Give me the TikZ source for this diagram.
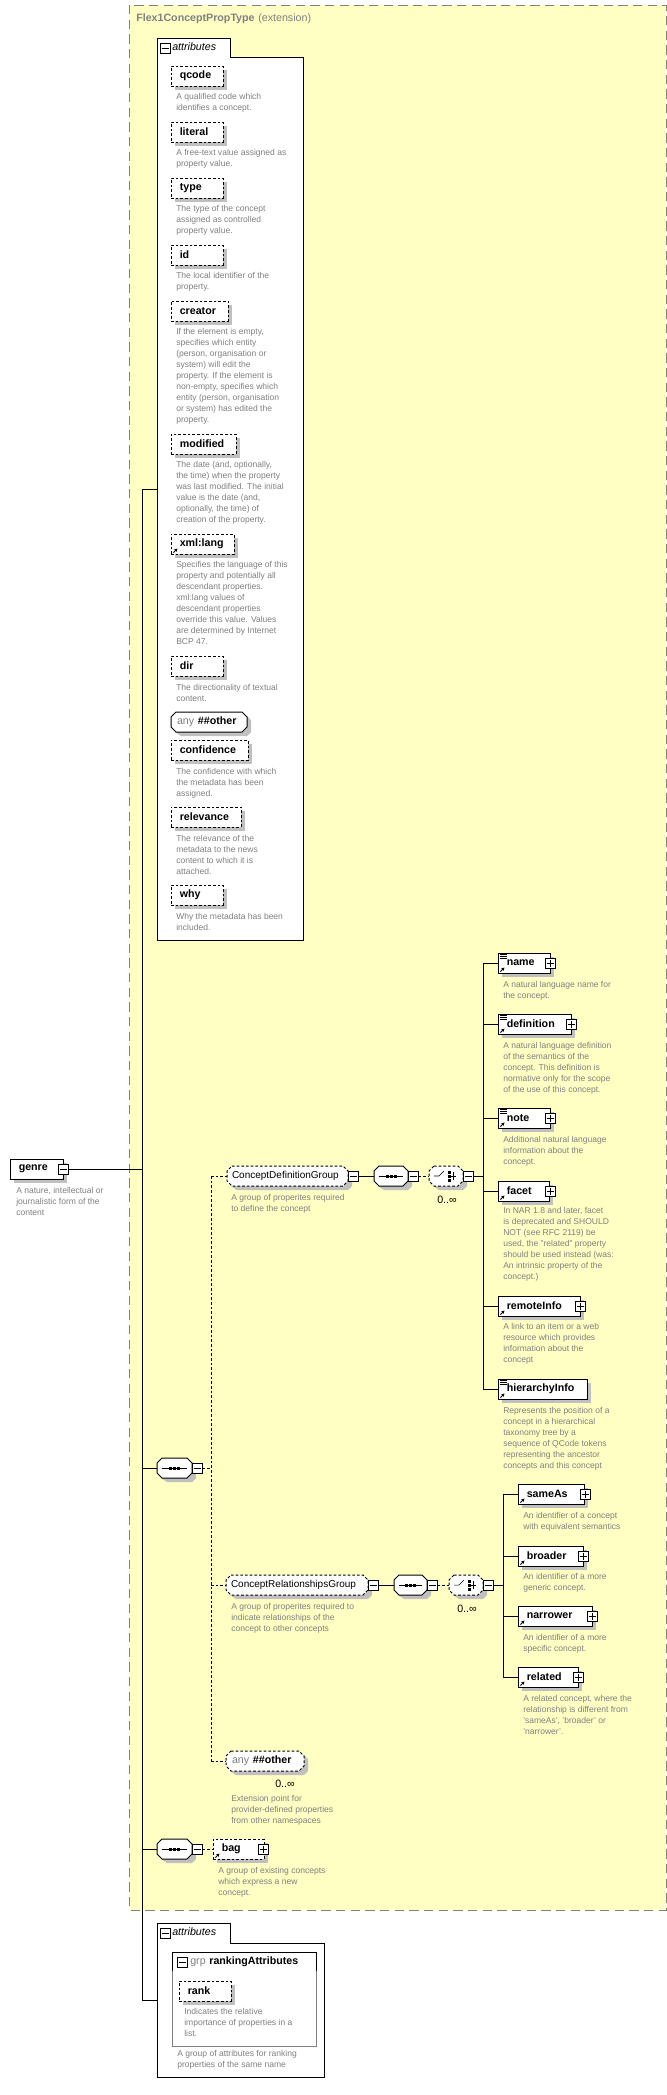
\documentclass[tikz,border=0pt]{standalone}
\usepackage{fontspec}
\setmainfont{Liberation Sans}
\usetikzlibrary{arrows.meta}
\definecolor{yel}{RGB}{255,255,196}
\definecolor{shd}{RGB}{192,192,192}
\definecolor{dsc}{RGB}{128,128,128}
\newcommand\nmfont{\fontsize{8pt}{9.6pt}\selectfont\bfseries}
\newcommand\gfont{\fontsize{8pt}{9.6pt}\selectfont}
\newcommand\grfont{\fontsize{7.5pt}{9pt}\selectfont}
\newcommand\dfont{\fontsize{6.4pt}{8.25pt}\selectfont}
\tikzset{
 abox/.style={rectangle,draw,dash pattern=on 2pt off 1.5pt,fill=white,line width=0.75pt},
 ebox/.style={rectangle,draw,fill=white,line width=0.75pt},
 pmbox/.style={rectangle,draw,fill=white,minimum size=7.5pt,inner sep=0pt,line width=0.75pt},
 dtxt/.style={anchor=north west,inner sep=0pt,align=left,font=\dfont,text=dsc},
 wire/.style={line width=0.75pt},
 dwire/.style={line width=0.75pt,dash pattern=on 2pt off 1.5pt},
 mult/.style={inner sep=0pt,font=\gfont},
 solidl/.style={},
 dashl/.style={dash pattern=on 2pt off 1.5pt},
}
\def\bxoff{9}
\newcommand\bx[6]{%
 \pgfmathsetmacro\bxw{(#3-#2)*0.75}%
 \pgfmathsetmacro\bxc{(#2+#3)/2}%
 \node[#5,fill=shd,draw=none,minimum width=\bxw pt,minimum height=15pt,inner sep=0pt] (#1-s) at (\bxc+4,#4+4) {};
 \node[#5,minimum width=\bxw pt,minimum height=15pt,inner sep=0pt] (#1) at (\bxc,#4) {};
 \node[anchor=west,inner sep=0pt] (#1-t) at ([shift={(\bxoff,0)}]#1.west) {#6};
}
% octagon: name,x1,x2,yc,linestyle,text
\newcommand\ob[6]{%
 \pgfmathsetmacro\bxw{(#3-#2)*0.75}%
 \pgfmathsetmacro\bxc{(#2+#3)/2}%
 \fill[shd] (#2+10,#4-6) -- (#3,#4-6) -- (#3+4,#4-2) -- (#3+4,#4+10) -- (#3,#4+14) -- (#2+10,#4+14) -- (#2+4,#4+10) -- (#2+4,#4-2) -- cycle;
 \draw[fill=white,line width=0.75pt,#5] (#2+5,#4-10) -- (#3-5,#4-10) -- (#3,#4-5) -- (#3,#4+5) -- (#3-5,#4+10) -- (#2+5,#4+10) -- (#2,#4+5) -- (#2,#4-5) -- cycle;
 \node[rectangle,minimum width=\bxw pt,minimum height=15pt,inner sep=0pt] (#1) at (\bxc,#4) {};
 \node[anchor=west,inner sep=0pt] (#1-t) at ([shift={(\bxoff,0)}]#1.west) {#6};
}
\newcommand\pmb[4]{%
 \node[pmbox] (#1) at (#2,#3) {};
 \draw ([shift={(2,0)}]#1.west) -- ([shift={(-2,0)}]#1.east);
 \ifnum#4=1 \draw ([shift={(0,2)}]#1.north) -- ([shift={(0,-2)}]#1.south);\fi}
\newcommand\arr[1]{\draw[-{Stealth[length=2.5pt,width=2.5pt]},line width=0.6pt] ([shift={(3,-2)}]#1.south west) -- ++(4,-4);}
\newcommand\eqi[1]{\foreach \i in {2,4,6} \draw[line width=0.5pt] ([shift={(2,\i)}]#1.north west) -- ++(7,0);}
\newcommand\seqsym[1]{\draw ([shift={(5,0)}]#1.west) -- ([shift={(-5,0)}]#1.east);
 \foreach \d in {-4,0,4} \fill ([shift={(\d,0)}]#1.center) +(-1.5,-1.5) rectangle +(1.5,1.5);}
\newcommand\chsym[1]{\draw ([shift={(-12,0)}]#1.center) -- ++(5,0) -- ++(5,-5);
 \foreach \d in {-4,0,4} \fill ([shift={(3,\d)}]#1.center) +(-1.5,-1.5) rectangle +(1.5,1.5);
 \draw ([shift={(4,0)}]#1.center) -- ++(6,0); \draw ([shift={(7,-4)}]#1.center) -- ++(0,8);}
\begin{document}
\begin{tikzpicture}[x=0.75pt,y=-0.75pt]
\useasboundingbox (0,0) rectangle (667,2095);
\fill[white] (0,0) rectangle (667,2095);
% extension box
\draw[fill=yel,draw=dsc,line width=0.75pt,dash pattern=on 7pt off 4pt] (129,5) rectangle (666,1910);
\node[anchor=west,inner sep=0pt,text=dsc] (title) at (136,19) {{\nmfont Flex1ConceptPropType} {\gfont (extension)}};
% attributes box 1
\draw[fill=white,line width=0.75pt] (157,940) -- (157,38) -- (230,38) -- (230,57) -- (303,57) -- (303,940) -- cycle;
\pmb{at1m}{165}{48}{0}
\node[anchor=west,inner sep=0pt,font=\gfont\itshape] (at1t) at (172,47) {attributes};
\coordinate (at1) at (157,489);

\bx{qcode}{171}{223}{76}{abox}{\nmfont qcode}
\node[dtxt] (qcode-d) at (176,93) {A qualified code which\\identifies a concept.};
\bx{literal}{171}{223}{132}{abox}{\nmfont literal}
\node[dtxt] (literal-d) at (176,149) {A free-text value assigned as\\property value.};
\bx{type}{171}{223}{188}{abox}{\nmfont type}
\node[dtxt] (type-d) at (176,205) {The type of the concept\\assigned as controlled\\property value.};
\bx{id}{171}{223}{255}{abox}{\nmfont id}
\node[dtxt] (id-d) at (176,272) {The local identifier of the\\property.};
\bx{creator}{171}{228}{311}{abox}{\nmfont creator}
\node[dtxt] (creator-d) at (176,328) {If the element is empty,\\specifies which entity\\(person, organisation or\\system) will edit the\\property. If the element is\\non-empty, specifies which\\entity (person, organisation\\or system) has edited the\\property.};
\bx{modified}{171}{236}{444}{abox}{\nmfont modified}
\node[dtxt] (modified-d) at (176,461) {The date (and, optionally,\\the time) when the property\\was last modified. The initial\\value is the date (and,\\optionally, the time) of\\creation of the property.};
\bx{xmllang}{171}{234}{544}{abox}{\nmfont xml:lang}
\arr{xmllang}
\node[dtxt] (xmllang-d) at (176,561) {Specifies the language of this\\property and potentially all\\descendant properties.\\xml:lang values of\\descendant properties\\override this value. Values\\are determined by Internet\\BCP 47.};
\bx{dir}{171}{223}{666}{abox}{\nmfont dir}
\node[dtxt] (dir-d) at (176,684) {The directionality of textual\\content.};
\def\bxoff{6}
\ob{aany}{171}{247}{722}{solidl}{{\gfont\color{dsc}any} {\nmfont \#\#other}}
\def\bxoff{9}
\bx{confidence}{171}{248}{750}{abox}{\nmfont confidence}
\node[dtxt] (confidence-d) at (176,768) {The confidence with which\\the metadata has been\\assigned.};
\bx{relevance}{171}{241}{817}{abox}{\nmfont relevance}
\node[dtxt] (relevance-d) at (176,835) {The relevance of the\\metadata to the news\\content to which it is\\attached.};
\bx{why}{171}{223}{895}{abox}{\nmfont why}
\node[dtxt] (why-d) at (176,913) {Why the metadata has been\\included.};

% genre
\bx{genre}{10}{63}{1169}{ebox}{\nmfont genre}
\pmb{genre-m}{63}{1169}{0}
\node[dtxt] (genre-d) at (16,1187) {A nature, intellectual or\\journalistic form of the\\content};
\coordinate (tG) at (142,1169);
\coordinate (tTop) at (142,489);
\coordinate (tBot) at (142,2000);
\coordinate (tS1) at (142,1468);
\coordinate (tS3) at (142,1849);
\coordinate (at2) at (157,2000);
\draw[wire] (genre-m.east) -- (tG);
\draw[wire] (tTop) -- (tBot);
\draw[wire] (tTop) -- (at1);
\draw[wire] (tBot) -- (at2);

% sequence 1
\ob{seq1}{157}{192}{1468}{solidl}{}
\seqsym{seq1}
\pmb{seq1-m}{197}{1468}{0}
\draw[wire] (tS1) -- (seq1.west);
\coordinate (dTop) at (211,1176);
\coordinate (dMid) at (211,1585);
\coordinate (dBot) at (211,1761);
\draw[dwire] (seq1-m.east) -- (211,1468);
\draw[dwire] (dTop) -- (dBot);

% ConceptDefinitionGroup
\def\bxoff{5}
\ob{cdg}{227}{348}{1176}{dashl}{\grfont ConceptDefinitionGroup}
\def\bxoff{9}
\pmb{cdg-m}{353}{1176}{0}
\draw[dwire] (dTop) -- (cdg.west);
\node[dtxt] (cdg-d) at (231,1194) {A group of properites required\\to define the concept};
\ob{seq2}{374}{408}{1176}{solidl}{}
\seqsym{seq2}
\pmb{seq2-m}{413}{1176}{0}
\draw[wire] (cdg-m.east) -- (seq2.west);
\ob{ch1}{429}{463}{1176}{dashl}{}
\chsym{ch1}
\pmb{ch1-m}{468}{1176}{0}
\draw[dwire] (seq2-m.east) -- (ch1.west);
\node[mult] (ch1-n) at (447,1200) {0..∞};
\coordinate (b1) at (483,1176);
\coordinate (b1t) at (483,963);
\coordinate (b1b) at (483,1389);
\draw[wire] (ch1-m.east) -- (b1);
\draw[wire] (b1t) -- (b1b);

\bx{name}{498}{550}{963}{ebox}{\nmfont name}
\eqi{name}\arr{name}\pmb{name-p}{550}{963}{1}
\node[dtxt] (name-d) at (503,981) {A natural language name for\\the concept.};
\bx{definition}{498}{571}{1024}{ebox}{\nmfont definition}
\eqi{definition}\arr{definition}\pmb{definition-p}{571}{1024}{1}
\node[dtxt] (definition-d) at (503,1042) {A natural language definition\\of the semantics of the\\concept. This definition is\\normative only for the scope\\of the use of this concept.};
\bx{note}{498}{550}{1118}{ebox}{\nmfont note}
\eqi{note}\arr{note}\pmb{note-p}{550}{1118}{1}
\node[dtxt] (note-d) at (503,1136) {Additional natural language\\information about the\\concept.};
\bx{facet}{498}{549}{1191}{ebox}{\nmfont facet}
\arr{facet}\pmb{facet-p}{550}{1191}{1}
\node[dtxt] (facet-d) at (503,1207) {In NAR 1.8 and later, facet\\is deprecated and SHOULD\\NOT (see RFC 2119) be\\used, the "related" property\\should be used instead (was:\\An intrinsic property of the\\concept.)};
\bx{remoteInfo}{498}{580}{1306}{ebox}{\nmfont remoteInfo}
\arr{remoteInfo}\pmb{remoteInfo-p}{580}{1306}{1}
\node[dtxt] (remoteInfo-d) at (503,1323) {A link to an item or a web\\resource which provides\\information about the\\concept};
\bx{hierarchyInfo}{498}{587}{1389}{ebox}{\nmfont hierarchyInfo}
\eqi{hierarchyInfo}\arr{hierarchyInfo}
\node[dtxt] (hierarchyInfo-d) at (503,1407) {Represents the position of a\\concept in a hierarchical\\taxonomy tree by a\\sequence of QCode tokens\\representing the ancestor\\concepts and this concept};
\foreach \n in {name,definition,note,facet,remoteInfo,hierarchyInfo}
  \draw[wire] (\n.west -| b1) -- (\n.west);

% ConceptRelationshipsGroup
\def\bxoff{5}
\ob{crg}{226}{368}{1585}{dashl}{\grfont ConceptRelationshipsGroup}
\def\bxoff{9}
\pmb{crg-m}{373}{1585}{0}
\draw[dwire] (dMid) -- (crg.west);
\node[dtxt] (crg-d) at (231,1603) {A group of properites required to\\indicate relationships of the\\concept to other concepts};
\ob{seq4}{394}{427}{1585}{solidl}{}
\seqsym{seq4}
\pmb{seq4-m}{432}{1585}{0}
\draw[wire] (crg-m.east) -- (seq4.west);
\ob{ch2}{449}{483}{1585}{dashl}{}
\chsym{ch2}
\pmb{ch2-m}{488}{1585}{0}
\draw[dwire] (seq4-m.east) -- (ch2.west);
\node[mult] (ch2-n) at (467,1609) {0..∞};
\coordinate (b2) at (503,1585);
\coordinate (b2t) at (503,1494);
\coordinate (b2b) at (503,1677);
\draw[wire] (ch2-m.east) -- (b2);
\draw[wire] (b2t) -- (b2b);
\bx{sameAs}{518}{584}{1494}{ebox}{\nmfont sameAs}
\arr{sameAs}\pmb{sameAs-p}{585}{1494}{1}
\node[dtxt] (sameAs-d) at (523,1512) {An identifier of a concept\\with equivalent semantics};
\bx{broader}{518}{583}{1556}{ebox}{\nmfont broader}
\arr{broader}\pmb{broader-p}{583}{1556}{1}
\node[dtxt] (broader-d) at (523,1573) {An identifier of a more\\generic concept.};
\bx{narrower}{518}{592}{1616}{ebox}{\nmfont narrower}
\arr{narrower}\pmb{narrower-p}{592}{1616}{1}
\node[dtxt] (narrower-d) at (523,1634) {An identifier of a more\\specific concept.};
\bx{related}{518}{578}{1677}{ebox}{\nmfont related}
\arr{related}\pmb{related-p}{578}{1677}{1}
\node[dtxt] (related-d) at (523,1695) {A related concept, where the\\relationship is different from\\'sameAs', 'broader' or\\'narrower'.};
\foreach \n in {sameAs,broader,narrower,related}
  \draw[wire] (\n.west -| b2) -- (\n.west);

% any ##other
\def\bxoff{6}
\ob{cany}{226}{304}{1761}{dashl}{{\gfont\color{dsc}any} {\nmfont \#\#other}}
\def\bxoff{9}
\draw[dwire] (dBot) -- (cany.west);
\node[mult] (cany-n) at (285,1784) {0..∞};
\node[dtxt] (cany-d) at (231,1795) {Extension point for\\provider-defined properties\\from other namespaces};

% bag
\ob{seq3}{157}{192}{1849}{solidl}{}
\seqsym{seq3}
\pmb{seq3-m}{197}{1849}{0}
\draw[wire] (tS3) -- (seq3.west);
\bx{bag}{213}{264}{1849}{abox}{\nmfont bag}
\arr{bag}\pmb{bag-p}{263}{1849}{1}
\draw[dwire] (seq3-m.east) -- (bag.west);
\node[dtxt] (bag-d) at (218,1867) {A group of existing concepts\\which express a new\\concept.};

% attributes box 2
\draw[fill=white,line width=0.75pt] (157,2077) -- (157,1923) -- (230,1923) -- (230,1943) -- (324,1943) -- (324,2077) -- cycle;
\pmb{at2m}{165}{1933}{0}
\node[anchor=west,inner sep=0pt,font=\gfont\itshape] (at2t) at (172,1932) {attributes};
\draw[draw=dsc,line width=0.75pt] (172,1952) rectangle (316,2046);
\draw[line width=0.75pt] (172,1971) -- (172,1952) -- (316,1952) -- (316,1971);
\pmb{grpm}{182}{1962}{0}
\node[anchor=west,inner sep=0pt] (grpt) at (190,1962) {{\gfont\color{dsc}grp} {\nmfont rankingAttributes}};
\bx{rank}{179}{231}{1991}{abox}{\nmfont rank}
\node[dtxt] (rank-d) at (184,2008) {Indicates the relative\\importance of properties in a\\list.};
\node[dtxt] (grp-d) at (177,2050) {A group of attributes for ranking\\properties of the same name};
\end{tikzpicture}
\end{document}
